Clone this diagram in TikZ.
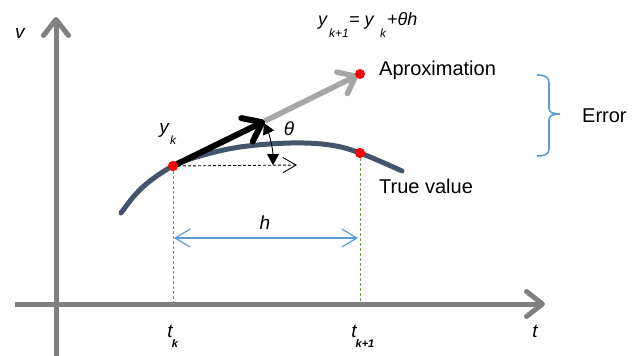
\documentclass[tikz,border=0pt]{standalone}
\usepackage{fontspec}
\setmainfont{Liberation Sans}
\usetikzlibrary{arrows.meta}
\definecolor{axisgray}{HTML}{808080}
\definecolor{curveblue}{HTML}{44546A}
\definecolor{approxgray}{HTML}{A6A6A6}
\definecolor{accentblue}{HTML}{5B9BD5}
\definecolor{dashgreen}{HTML}{6A9F45}
\begin{document}
\begin{tikzpicture}[x=1pt,y=-1pt,
  axisline/.style={draw=axisgray,line width=5pt},
  curveline/.style={draw=curveblue,line width=5pt,line cap=round},
  greendash/.style={draw=dashgreen,line width=1pt,dash pattern=on 3pt off 2pt},
  slopearrow/.style={draw=black,line width=6pt,-{Straight Barb[length=17pt,width=26pt,round]}},
  approxarrow/.style={draw=approxgray,line width=5.5pt,-{Straight Barb[length=15pt,width=24pt,round]}},
  harrow/.style={draw=accentblue,line width=1.2pt,{Straight Barb[length=15pt,width=18pt]}-{Straight Barb[length=15pt,width=18pt]}},
  horizdash/.style={draw=black,line width=0.9pt,dash pattern=on 3pt off 2pt,-{Straight Barb[length=13pt,width=15pt]}},
  anglearrow/.style={draw=black,line width=0.9pt,{Triangle[length=11pt,width=12pt]}-{Triangle[length=11pt,width=12pt]}},
  dot/.style={circle,fill=red,inner sep=0pt,minimum size=10pt},
  lbl/.style={inner sep=0pt,font=\fontsize{20}{24}\selectfont},
  var/.style={inner sep=0pt,font=\fontsize{19}{22}\selectfont\itshape},
  fvar/.style={inner sep=0pt,font=\fontsize{18}{21}\selectfont\itshape},
  sub/.style={inner sep=0pt,font=\fontsize{11}{13}\selectfont\itshape\bfseries},
  fsub/.style={inner sep=0pt,font=\fontsize{12}{14}\selectfont\itshape},
  bracecol/.style={draw=accentblue,line width=1.6pt}]
\useasboundingbox (0,0) rectangle (640,356);

% coordinates
\coordinate (yaxbot) at (56,356);
\coordinate (yaxtop) at (56,17);
\coordinate (xaxleft) at (15,304);
\coordinate (xaxright) at (545,304);
\coordinate (tkfoot) at (173,304);
\coordinate (tk1foot) at (360,304);
\coordinate (slopetip) at (265,121);
\coordinate (approxtip) at (358,75);
\coordinate (hleft) at (174,238);
\coordinate (hright) at (358,238);
\coordinate (dashend) at (297,165);
\coordinate (angtop) at (264,123);
\coordinate (angbot) at (273,165);

% axes
\draw[axisline,-{Straight Barb[length=16pt,width=25pt,round]}] (yaxbot) -- (yaxtop);
\draw[axisline,-{Straight Barb[length=16pt,width=25pt,round]}] (xaxleft) -- (xaxright);

% curve
\draw[curveline] plot[smooth,tension=0.6] coordinates {(121,213) (135,195) (150,181) (173,166) (200,156) (240,147) (290,143) (330,145) (360,153) (402,171)};

% dots and green dashed
\node[dot] (pk) at (173,166) {};
\node[dot] (pk1) at (360,153) {};
\draw[greendash] (pk.center) -- (tkfoot);
\draw[greendash] (pk1.center) -- (tk1foot);
\node[dot] at (pk1) {};

% horizontal dashed
\draw[horizdash] (pk.center) -- (dashend);

% approximation arrow
\draw[approxarrow] (slopetip) -- (approxtip);
\node[dot] (pa) at (360,74) {};

% slope arrow
\draw[slopearrow] (pk.center) -- (slopetip);
\node[dot] at (pk) {};

% angle arrow
\draw[anglearrow] (angtop) .. controls (270,136) and (273,151) .. (angbot);

% h arrow
\draw[harrow] (hleft) -- (hright);

% brace
\draw[bracecol] (537,75) .. controls (545,75) and (549,77) .. (549,83) -- (549,108)
  .. controls (549,112) and (552,114) .. (560,114)
  .. controls (552,114) and (549,116) .. (549,120) -- (549,149)
  .. controls (549,154) and (545,156) .. (537,156);

% labels
\node[lbl,anchor=base west] (approxlbl) at (379,75) {Aproximation};
\node[lbl,anchor=base west] (truelbl) at (379,193) {True value};
\node[lbl,anchor=base west] (errlbl) at (582,122) {Error};

\node[var,anchor=base] (vlbl) at (20,38) {v};
\node[var,anchor=base] (tlbl) at (535,337) {t};
\node[var,anchor=base] (tklbl) at (170,337) {t};
\node[sub,anchor=base] (tksub) at (175,347) {k};
\node[var,anchor=base] (tk1lbl) at (354,337) {t};
\node[sub,anchor=base] (tk1sub) at (365,347) {k+1};
\node[var,anchor=base] (hlbl) at (265,229) {h};
\node[var,anchor=base] (thlbl) at (289,135) {θ};
\node[var,anchor=base] (yklbl) at (164,133) {y};
\node[fsub,anchor=base] (yksub) at (173,144) {k};

% formula
\node[fvar,anchor=base west] (f1) at (318,25) {y};
\node[fsub,anchor=base west] (f2) at (329,37) {k+1};
\node[fvar,anchor=base west] (f3) at (349,25) {= y};
\node[fsub,anchor=base west] (f4) at (380,37) {k};
\node[fvar,anchor=base west] (f5) at (387,25) {+θh};
\end{tikzpicture}
\end{document}
